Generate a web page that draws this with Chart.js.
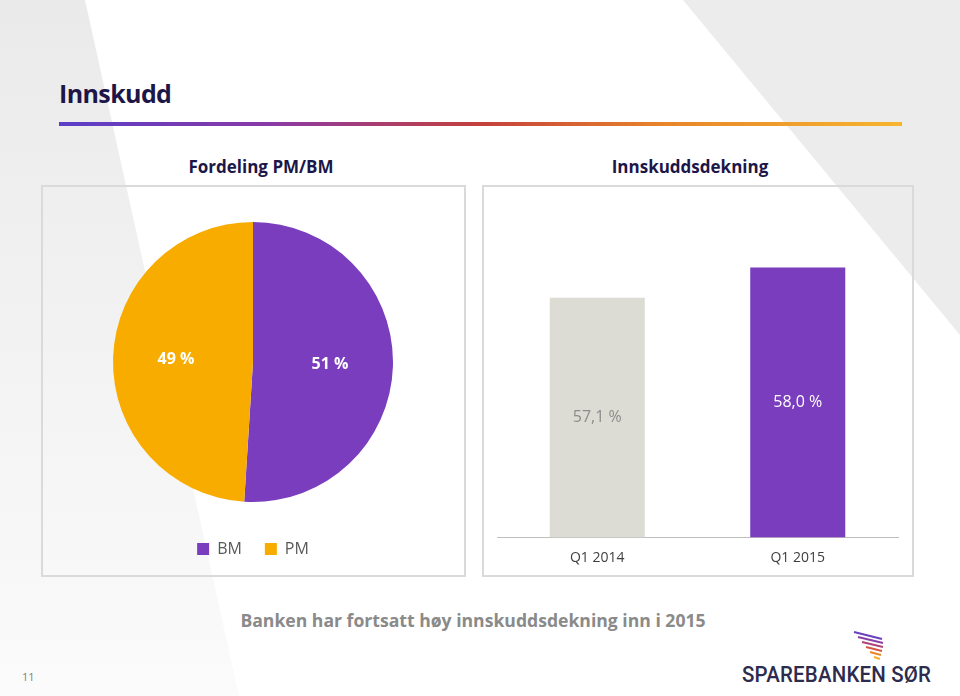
<!DOCTYPE html>
<html>
<head>
<meta charset="utf-8">
<script src="https://cdn.jsdelivr.net/npm/chart.js@4.4.0/dist/chart.umd.min.js"></script>
<style>
  html, body { margin: 0; padding: 0; }
  body { width: 960px; height: 696px; position: relative; overflow: hidden; background: #fff; font-family: 'Open Sans', sans-serif; }
  .bg-left { position: absolute; left: 0; top: 0; width: 960px; height: 696px; background: linear-gradient(#eaeaea, #fbfbfb); clip-path: polygon(0 0, 85px 0, 239px 696px, 0 696px); }
  .bg-right { position: absolute; left: 0; top: 0; width: 960px; height: 696px; background: #ececec; clip-path: polygon(683px 0, 960px 0, 960px 335px); }
  .title { position: absolute; left: 59px; top: 77px; font-size: 25px; font-weight: 700; color: #1c1748; letter-spacing: -0.6px; line-height: 32px; }
  .rule { position: absolute; left: 59px; top: 122px; width: 843px; height: 4px; background: linear-gradient(to right, #5a3ec8, #8a3aa6 25%, #c4403c 50%, #e8862a 72%, #f7b52e 100%); }
  .sub { position: absolute; top: 156px; width: 300px; text-align: center; font-size: 17px; font-weight: 700; color: #1c1748; line-height: 22px; }
  .box { position: absolute; top: 185px; height: 392px; border: 2px solid #dadada; box-sizing: border-box; }
  .chart { position: absolute; top: 186px; }
  .note { position: absolute; left: 123px; top: 608px; width: 700px; text-align: center; font-size: 17.6px; font-weight: 700; color: #8a8a8a; line-height: 24px; }
  .page { position: absolute; left: 22px; top: 669px; font-size: 11px; color: #7f7f7f; }
  .logo { position: absolute; left: 742px; top: 662px; font-family: Roboto, sans-serif; font-size: 22px; font-weight: 500; color: #2d2b4e; letter-spacing: 0.2px; transform: scaleX(0.93); transform-origin: left; line-height: 26px; }
  .mark { position: absolute; left: 852px; top: 630px; }
</style>
</head>
<body>
<div class="bg-left"></div>
<div class="bg-right"></div>
<div class="title">Innskudd</div>
<div class="rule"></div>
<div class="sub" style="left:111px">Fordeling PM/BM</div>
<div class="sub" style="left:540px">Innskuddsdekning</div>
<div class="box" style="left:41px; width:425px"></div>
<div class="box" style="left:482px; width:432px"></div>
<div class="chart" style="left:41px; width:424px; height:390px"><canvas id="pie"></canvas></div>
<div class="chart" style="left:482px; width:431px; height:401px"><canvas id="bar"></canvas></div>
<div class="note">Banken har fortsatt høy innskuddsdekning inn i 2015</div>
<div class="page">11</div>
<svg class="mark" width="38" height="36" viewBox="0 0 38 36">
  <line x1="2" y1="2" x2="30" y2="9" stroke="#6a3fc0" stroke-width="2"/>
  <line x1="6" y1="7" x2="31" y2="13" stroke="#8a3fa8" stroke-width="2"/>
  <line x1="10" y1="12" x2="31" y2="17" stroke="#b0437a" stroke-width="2"/>
  <line x1="14" y1="17" x2="30" y2="21" stroke="#d2584a" stroke-width="2"/>
  <line x1="18" y1="22" x2="29" y2="25" stroke="#e8862a" stroke-width="2"/>
  <line x1="22" y1="27" x2="28" y2="29" stroke="#f4b02e" stroke-width="2"/>
</svg>
<div class="logo">SPAREBANKEN SØR</div>

<script>
Chart.defaults.font.family = "'Open Sans', sans-serif";
Chart.defaults.animation = false;

const pieLabels = ['BM', 'PM'];
const pieValues = [51, 49];
const pieColors = ['#7a3dbe', '#f8ac00'];

const barLabels = ['Q1 2014', 'Q1 2015'];
const barValues = [57.1, 58.0];
const barColors = ['#dcdcd4', '#7a3dbe'];

// draws the value text inside each slice / bar
const valueLabels = function (name, values, format, colors, font) {
  return {
    id: name,
    afterDraw(chart) {
      const ctx = chart.ctx;
      const meta = chart.getDatasetMeta(0);
      const isPie = chart.config.type === 'pie';
      ctx.save();
      ctx.textAlign = 'center';
      ctx.textBaseline = 'middle';
      ctx.font = font;
      meta.data.forEach((el, i) => {
        let x, y;
        if (isPie) {
          const mid = (el.startAngle + el.endAngle) / 2;
          const r = el.outerRadius * 0.55;
          x = el.x + Math.cos(mid) * r;
          y = el.y + Math.sin(mid) * r;
        } else {
          const yScale = chart.scales.y;
          x = el.x;
          y = (yScale.getPixelForValue(values[i]) + yScale.bottom) / 2;
        }
        ctx.fillStyle = colors[i];
        ctx.fillText(format(values[i]), x, y);
      });
      ctx.restore();
    },
  };
};

new Chart(document.getElementById('pie'), {
  type: 'pie',
  data: {
    labels: pieLabels,
    datasets: [
      {
        data: pieValues,
        backgroundColor: pieColors,
        borderWidth: 0,
        radius: 140,
      },
    ],
  },
  options: {
    responsive: true,
    maintainAspectRatio: false,
    layout: { padding: { top: 20, bottom: 9 } },
    plugins: {
      tooltip: { enabled: false },
      legend: {
        position: 'bottom',
        labels: {
          boxWidth: 12,
          boxHeight: 12,
          padding: 23,
          color: '#595959',
          font: { size: 16 },
        },
      },
    },
  },
  plugins: [valueLabels('pieLabels', pieValues, v => v + ' %', ['#fff', '#fff'], "700 16px 'Open Sans', sans-serif")],
});

new Chart(document.getElementById('bar'), {
  type: 'bar',
  data: {
    labels: barLabels,
    datasets: [
      {
        data: barValues,
        backgroundColor: barColors,
        barPercentage: 0.474,
        categoryPercentage: 1,
      },
    ],
  },
  options: {
    responsive: true,
    maintainAspectRatio: false,
    layout: { padding: { top: 14, left: 15, right: 15, bottom: 9 } },
    plugins: {
      legend: { display: false },
      tooltip: { enabled: false },
    },
    scales: {
      y: { display: false, min: 50, max: 60 },
      x: {
        grid: { display: false, drawTicks: false },
        border: { display: true, color: '#bfbfbf', width: 1 },
        ticks: { color: '#404040', font: { size: 14 }, padding: 12 },
      },
    },
  },
  plugins: [valueLabels('barLabels', barValues, v => v.toFixed(1).replace('.', ',') + ' %', ['#8c8c8c', '#fff'], "16px 'Open Sans', sans-serif")],
});
</script>
</body>
</html>
